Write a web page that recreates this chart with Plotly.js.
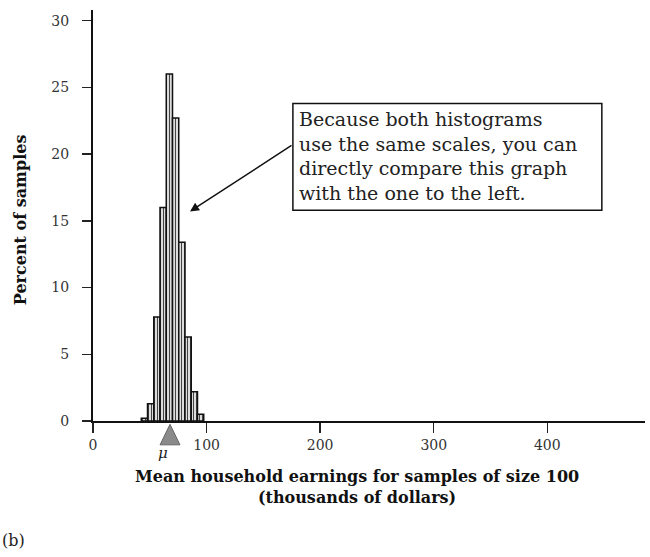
<!DOCTYPE html>
<html>
<head>
<meta charset="utf-8">
<script src="https://cdn.plot.ly/plotly-3.0.1.min.js"></script>
<style>html,body{margin:0;padding:0;background:#fff;}#chart{width:650px;height:557px;}</style>
</head>
<body>
<div id="chart"></div>
<script>
// Histogram of sample means (thousands of dollars), bin centers and percent of samples
const binCenters = [45.25, 50.75, 56.25, 61.75, 67.25, 72.75, 78.25, 83.75, 89.25, 94.75];
const percents   = [0.2, 1.3, 7.8, 16.0, 26.0, 22.7, 13.4, 6.3, 2.2, 0.5];
const binWidth = 5.5;
const muValue = 67.8;
const xTicks = [0, 100, 200, 300, 400];
const yTicks = [0, 5, 10, 15, 20, 25, 30];
const noteLines = ["Because both histograms", "use the same scales, you can", "directly compare this graph", "with the one to the left."];

const serif = "DejaVu Serif, serif";
const xMax = 486;

const bars = {
  type: 'bar',
  x: binCenters,
  y: percents,
  width: binCenters.map(() => binWidth),
  marker: {
    color: '#d0d0d0',
    line: {color: '#111', width: 1.5},
    pattern: {shape: '|', fgcolor: '#444', bgcolor: '#dcdcdc', size: 3, solidity: 0.35}
  },
  hoverinfo: 'skip',
  showlegend: false
};

// triangle marker for mu, in paper coordinates below the x axis
const mp = muValue / xMax;
const triPath = `M ${mp},-0.008 L ${mp + 0.018},-0.058 L ${mp - 0.018},-0.058 Z`;

const layout = {
  width: 650, height: 557,
  margin: {l: 93, r: 5, t: 10, b: 136},
  paper_bgcolor: '#fff', plot_bgcolor: '#fff',
  bargap: 0,
  font: {family: serif, color: '#222'},
  xaxis: {
    range: [0, xMax],
    tickvals: xTicks,
    ticktext: xTicks.map(String),
    ticks: 'outside', ticklen: 10, tickwidth: 1.5, tickcolor: '#222',
    showline: true, linecolor: '#111', linewidth: 2,
    showgrid: false, zeroline: false,
    tickfont: {family: serif, size: 14, color: '#333'},
    fixedrange: true
  },
  yaxis: {
    range: [0, 30.8],
    tickvals: yTicks,
    ticks: 'outside', ticklen: 9, tickwidth: 1.5, tickcolor: '#222',
    showline: true, linecolor: '#111', linewidth: 2,
    showgrid: false, zeroline: false,
    tickfont: {family: serif, size: 14, color: '#333'},
    ticklabelstandoff: 10,
    fixedrange: true
  },
  shapes: [
    {type: 'rect', xref: 'x', yref: 'y', x0: 176, x1: 448, y0: 15.8, y1: 23.8,
     line: {color: '#111', width: 1.5}, fillcolor: 'rgba(0,0,0,0)'},
    {type: 'path', xref: 'paper', yref: 'paper', path: triPath,
     fillcolor: '#8a8a8a', line: {color: '#666', width: 1}}
  ],
  annotations: [
    {xref: 'x', yref: 'y', x: 180, y: 23.6, xanchor: 'left', yanchor: 'top', align: 'left',
     text: noteLines.join('<br>'), showarrow: false,
     font: {family: serif, size: 19, color: '#222'}},
    {xref: 'x', yref: 'y', x: 85.4, y: 15.7, text: '', showarrow: true,
     axref: 'pixel', ayref: 'pixel', ax: 103, ay: -67,
     arrowhead: 2, arrowsize: 1.2, arrowwidth: 1.5, arrowcolor: '#111'},
    {xref: 'x', yref: 'paper', x: 62, y: -0.077, yanchor: 'middle', text: '<i>μ</i>', showarrow: false,
     font: {family: serif, size: 15, color: '#222'}},
    {xref: 'paper', yref: 'paper', x: 0.478, y: -0.107, yanchor: 'top', xanchor: 'center', align: 'center',
     text: '<b>Mean household earnings for samples of size 100</b><br><b>(thousands of dollars)</b>',
     showarrow: false, font: {family: serif, size: 16, color: '#111'}},
    {xref: 'paper', yref: 'paper', x: -0.132, y: 0.489, textangle: -90, xanchor: 'center', yanchor: 'middle',
     text: '<b>Percent of samples</b>', showarrow: false, font: {family: serif, size: 16, color: '#111'}},
    {xref: 'paper', yref: 'paper', x: -0.168, y: -0.29, xanchor: 'left', yanchor: 'middle',
     text: '(b)', showarrow: false, font: {family: serif, size: 16, color: '#222'}}
  ]
};

Plotly.newPlot('chart', [bars], layout, {displayModeBar: false, staticPlot: true});
</script>
</body>
</html>
